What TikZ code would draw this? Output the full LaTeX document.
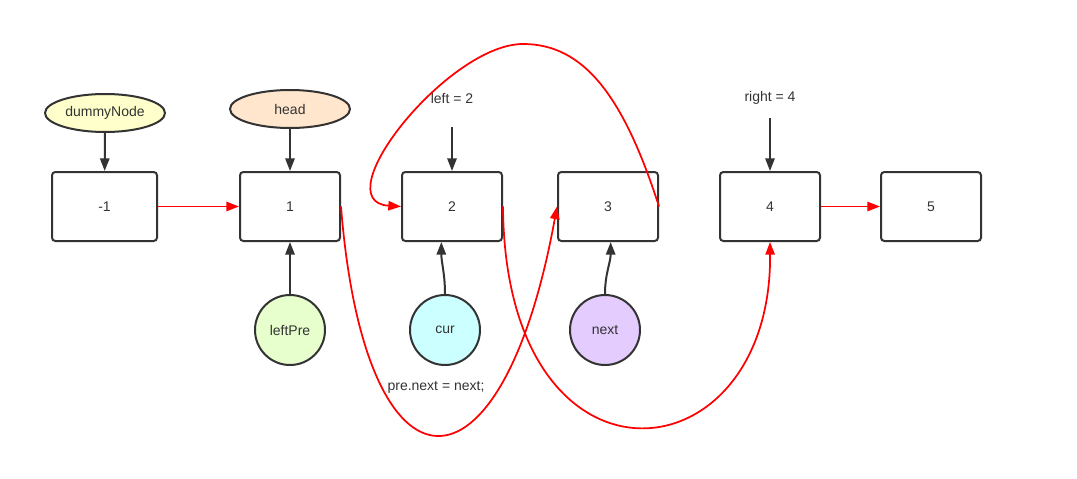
\documentclass[tikz,border=0pt]{standalone}
\usepackage{fontspec}
\setmainfont{Liberation Sans}
\usepackage{xcolor}
\usetikzlibrary{arrows.meta,calc,positioning,shapes.geometric}
\definecolor{ink}{HTML}{333333}
\definecolor{dummyfill}{HTML}{FFFFCC}
\definecolor{headfill}{HTML}{FFE6CC}
\definecolor{prefill}{HTML}{E6FFCC}
\definecolor{curfill}{HTML}{CCFFFF}
\definecolor{nextfill}{HTML}{E5CCFF}
\tikzset{
	list node/.style={draw=ink, line width=1.5pt, rounded corners=2.5pt,
		minimum width=75pt, minimum height=51.75pt, text=ink},
	ptr ellipse/.style={ellipse, draw=ink, line width=1.5pt, inner xsep=1pt,
		minimum width=90pt, minimum height=28.5pt, text=ink},
	ptr circle/.style={circle, draw=ink, line width=1.5pt,
		minimum size=52.5pt, text=ink},
	lbl/.style={text=ink, inner sep=1pt},
	ptr/.style={draw=ink, line width=1.5pt, -{Triangle[length=9.5pt,width=7pt]}},
	link/.style={draw=red, line width=1.3pt, -{Triangle[length=9.5pt,width=7pt]}}
}

\begin{document}
\begin{tikzpicture}[x=0.75pt, y=-0.75pt, font=\fontsize{10.5}{12}\selectfont]
	\useasboundingbox (0,0) rectangle (1077,478);
	% list nodes
	\node[list node, minimum width=78.75pt] (bm1) at (104.5,206.5) {-1};
	\node[list node] (b1) at (290,206.5) {1};
	\node[list node] (b2) at (452,206.5) {2};
	\node[list node] (b3) at (608,206.5) {3};
	\node[list node] (b4) at (770,206.5) {4};
	\node[list node] (b5) at (931,206.5) {5};
	% pointers
	\node[ptr ellipse, fill=dummyfill] (dummy) at (105,113) {dummyNode};
	\node[ptr ellipse, fill=headfill] (head) at (290,109) {head};
	\node[ptr circle, fill=prefill] (leftpre) at (290,330) {leftPre};
	\node[ptr circle, fill=curfill] (cur) at (445,330) {cur};
	\node[ptr circle, fill=nextfill] (next) at (605,330) {next};
	\node[lbl] (left) at (452,98) {left = 2};
	\node[lbl] (right) at (770,98) {right = 4};
	\node[lbl] (prenext) at (436,387) {pre.next = next;};
	\coordinate (lptr) at (452,127);
	\coordinate (rptr) at (770,118);
	\coordinate (arctop) at (523,44);
	\draw[ptr] (dummy) -- (bm1);
	\draw[ptr] (head) -- (b1);
	\draw[ptr] (lptr) -- (b2);
	\draw[ptr] (rptr) -- (b4);
	\draw[ptr] (leftpre) -- (b1);
	\draw[ptr] (cur.north) to[out=90,in=-90] ([xshift=-8pt]b2.south);
	\draw[ptr] (next.north) to[out=90,in=-90] ([xshift=2pt]b3.south);
	% links
	\draw[link] (bm1) -- (b1);
	\draw[link] (b4) -- (b5);
	\draw[link] (b1.east) .. controls +(24,304) and +(-55,304) .. (b3.west);
	\draw[link] (b2.east) .. controls +(2,300) and +(2,240) .. (b4.south);
	\draw[link] (b3.east) .. controls +(-36,-112) and +(60,0) .. (arctop)
		.. controls +(-75,0) and +(-78,-5) .. (b2.west);
\end{tikzpicture}
\end{document}
